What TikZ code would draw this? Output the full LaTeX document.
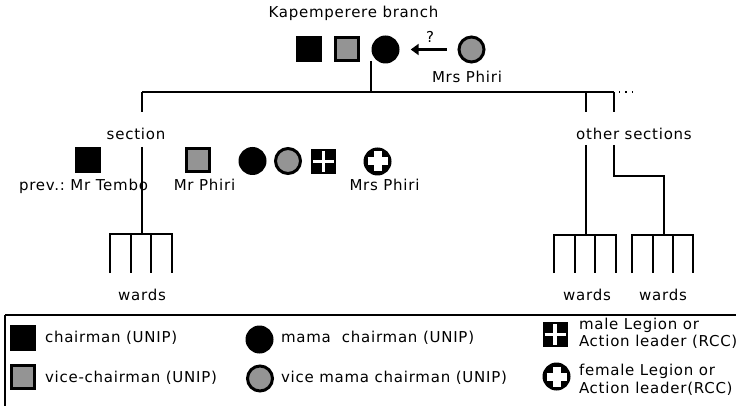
\documentclass[tikz,border=0pt]{standalone}
\usepackage{fontspec}
\setmainfont[LetterSpace=5]{DejaVu Sans}
\usetikzlibrary{arrows.meta}

\tikzset{
  txt/.style={inner sep=0pt, outer sep=0pt, font=\fontsize{15}{18}\selectfont\frenchspacing, anchor=base},
  txtw/.style={txt, anchor=base west},
  wire/.style={line width=1.6pt},
  % office-holder symbols
  chair/.style={rectangle, fill=black, minimum size=26pt, inner sep=0pt},
  vicechair/.style={rectangle, draw=black, line width=3pt, fill=black!42, minimum size=23pt, inner sep=0pt},
  mama/.style={circle, fill=black, minimum size=28pt, inner sep=0pt},
  vicemama/.style={circle, draw=black, line width=3pt, fill=black!42, minimum size=25pt, inner sep=0pt},
  malelegion/.style={rectangle, fill=black, minimum size=25pt, inner sep=0pt,
    path picture={
      \draw[white, line width=3.5pt, shorten <=2pt, shorten >=2pt]
        (path picture bounding box.north) -- (path picture bounding box.south);
      \draw[white, line width=3.5pt, shorten <=2pt, shorten >=2pt]
        (path picture bounding box.west) -- (path picture bounding box.east);
    }},
  femalelegion/.style={circle, fill=black, minimum size=28pt, inner sep=0pt,
    path picture={
      \draw[white, line width=8pt, shorten <=4pt, shorten >=4pt]
        (path picture bounding box.north) -- (path picture bounding box.south);
      \draw[white, line width=8pt, shorten <=4pt, shorten >=4pt]
        (path picture bounding box.west) -- (path picture bounding box.east);
    }},
}

\begin{document}
\begin{tikzpicture}[x=1pt, y=-1pt]
\clip (0,0) rectangle (736,406);
\fill[white] (0,0) rectangle (736,406);

% ---- branch level ----
\node[txt] (branch) at (353.5,17.5) {Kapemperere branch};
\node[chair]     (bchair) at (309,49.5) {};
\node[vicechair] (bvice)  at (347,49.5) {};
\node[mama]      (bmama)  at (385.5,49.5) {};
\node[vicemama]  (bvmama) at (471.5,49.5) {};
\node[txt] (bvmamaname) at (467,83) {Mrs Phiri};
\node[txt] (query) at (430,43) {?};
\draw[line width=3pt, -{Triangle[length=8pt,width=11pt]}]
  ([xshift=-11pt]bvmama.west) -- ([xshift=11pt]bmama.east);

% ---- connection to the sections ----
\coordinate (bdrop) at (371,61);
\coordinate (bjoin) at (371,92);
\coordinate (topL)  at (142,92);
\coordinate (topR)  at (614,92);
\coordinate (topM)  at (586,92);
\coordinate (dotsA) at (619,92);
\coordinate (dotsB) at (637,92);
\draw[wire] (bdrop) -- (bjoin);
\draw[wire] (topL) -- (topR);
\draw[line width=1.4pt, dash pattern=on 1.4pt off 5pt] (dotsA) -- (dotsB);

% ---- section ----
\node[txt] (section) at (136,140) {section};
\coordinate (secUp)  at (142,112);
\coordinate (secDn)  at (142,147);
\coordinate (secFork) at (142,234);
\draw[wire] (topL) -- (secUp);
\draw[wire] (secDn) -- (secFork);

\node[chair]        (schair) at (87.5,160.5) {};
\node[vicechair]    (svice)  at (198,160.5) {};
\node[mama]         (smama)  at (252.5,161) {};
\node[vicemama]     (svmama) at (288,161) {};
\node[malelegion]   (smale)  at (323.5,161.5) {};
\node[femalelegion] (sfem)   at (377.5,161.5) {};
\node[txt] (schairname) at (83.5,191) {prev.: Mr Tembo};
\node[txt] (svicename)  at (204.5,191) {Mr Phiri};
\node[txt] (sfemname)   at (384.5,191) {Mrs Phiri};

% wards of the section
\draw[wire] (110,273) -- (110,234) -- (172,234) -- (172,273);
\draw[wire] (131,234) -- (131,273);
\draw[wire] (151,234) -- (151,273);
\node[txt] (wards1) at (142,300) {wards};

% ---- other sections ----
\node[txt] (others) at (634,140) {other sections};
\coordinate (oAup) at (586,112);
\coordinate (oBup) at (614,112);
\coordinate (oAdn) at (586,145);
\coordinate (oBdn) at (614,145);
\coordinate (oAfork) at (586,235);
\coordinate (oBbend) at (614,176);
\coordinate (oBfork) at (664,235);
\draw[wire] (topM) -- (oAup);
\draw[wire] (topR) -- (oBup);
\draw[wire] (oAdn) -- (oAfork);
\draw[wire] (oBdn) -- (oBbend) -| (oBfork);

\draw[wire] (554,273) -- (554,235) -- (616,235) -- (616,273);
\draw[wire] (575,235) -- (575,273);
\draw[wire] (595,235) -- (595,273);
\node[txt] (wards2) at (587,300) {wards};

\draw[wire] (632,273) -- (632,235) -- (693,235) -- (693,273);
\draw[wire] (653,235) -- (653,273);
\draw[wire] (673,235) -- (673,273);
\node[txt] (wards3) at (663,300) {wards};

% ---- key ----
\draw[line width=2pt] (5,315) -- (745,315);
\draw[line width=1.2pt] (5,315) -- (5,412);

\node[chair]     (kchair) at (23,338) {};
\node[txtw] at (45,342) {chairman (UNIP)};
\node[vicechair] (kvice)  at (23,376.5) {};
\node[txtw] at (45,382) {vice-chairman (UNIP)};

\node[mama]      (kmama)  at (259.5,339.5) {};
\node[txtw] at (281,342) {mama\ \ chairman (UNIP)};
\node[vicemama]  (kvmama) at (260,378.5) {};
\node[txtw] at (281,382) {vice mama chairman (UNIP)};

\node[malelegion]   (kmale) at (555,334.5) {};
\node[txtw] at (579,329) {male Legion or};
\node[txtw] at (579,346) {Action leader (RCC)};
\node[femalelegion] (kfem)  at (556.5,376.5) {};
\node[txtw] at (579,375) {female Legion or};
\node[txtw] at (579,393) {Action leader(RCC)};
\end{tikzpicture}
\end{document}
